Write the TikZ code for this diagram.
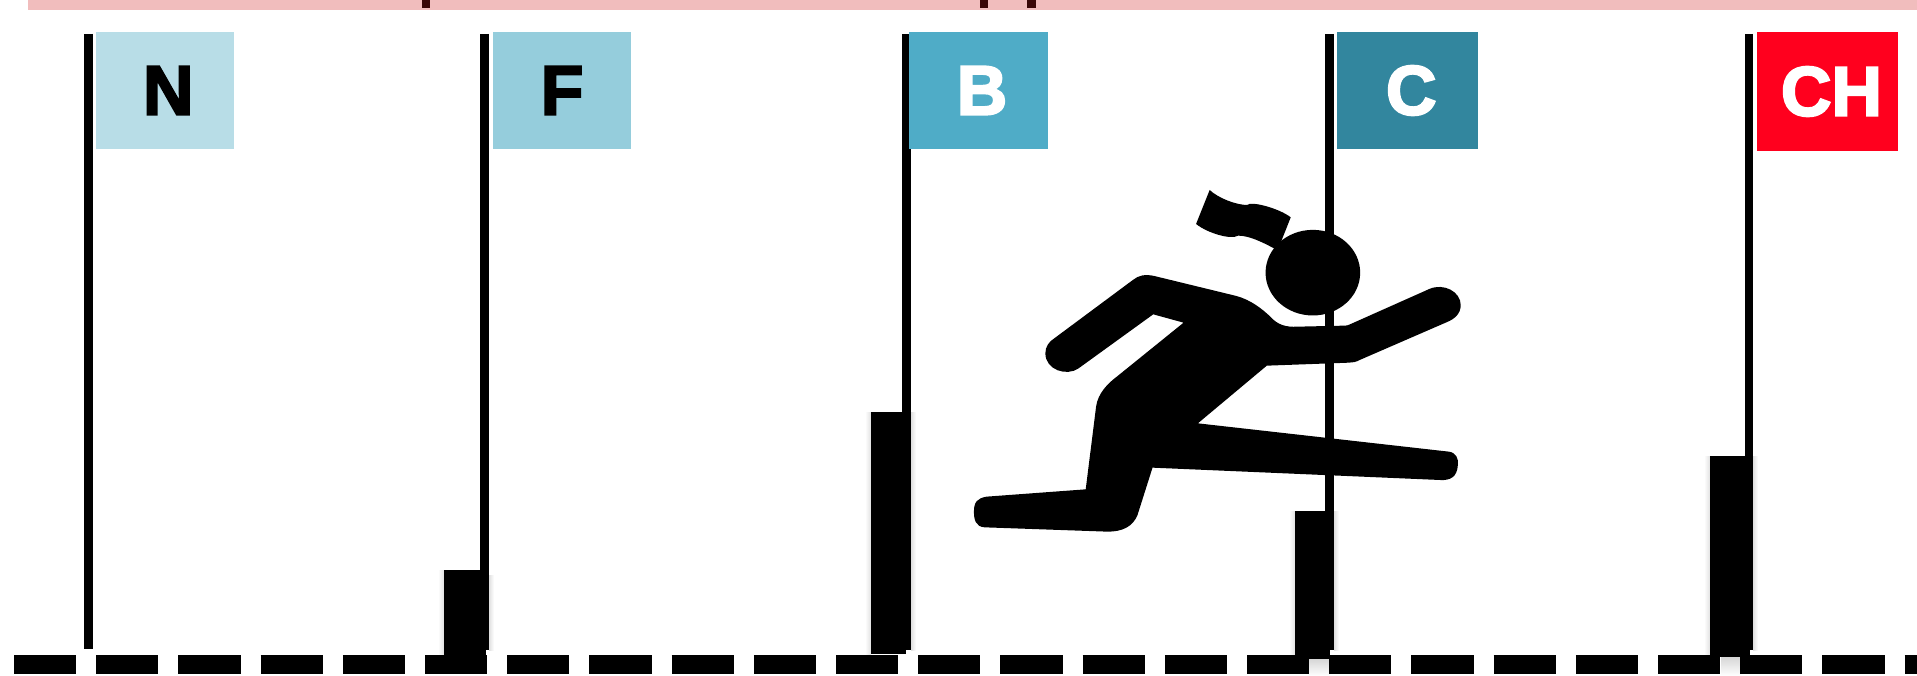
\documentclass[tikz,border=0pt]{standalone}
\usepackage{fontspec}
\setmainfont{Liberation Sans}
\newfontfamily\flagfont[FakeBold=3]{Liberation Sans Bold}
\definecolor{bandpink}{HTML}{F1BDBD}
\definecolor{tickdark}{HTML}{3A0808}
\definecolor{flagN}{HTML}{B8DDE7}
\definecolor{flagF}{HTML}{95CDDC}
\definecolor{flagB}{HTML}{4FACC7}
\definecolor{flagC}{HTML}{32869E}
\definecolor{flagCH}{HTML}{FF001E}
\tikzset{
  flagbox/.style={rectangle,draw=none,inner sep=0pt,minimum width=#1,minimum height=117pt,
    font=\fontsize{70}{70}\selectfont\flagfont},
  pole/.style={line width=8.6pt,black},
  bar/.style={fill=black,draw=none},
  glowL/.style={left color=white,right color=black!12,draw=none},
  glowR/.style={left color=black!12,right color=white,draw=none},
  tick/.style={fill=tickdark,draw=none}
}
\begin{document}
\begin{tikzpicture}[x=1pt,y=-1pt]
\useasboundingbox (0,0) rectangle (1917,676);
\fill[white] (0,0) rectangle (1917,676);
% top band
\fill[bandpink] (28,0) rectangle (1917,9.7);
\fill[tick] (422,0) rectangle (429.5,8);
\fill[tick] (980,0) rectangle (988,8);
\fill[tick] (1027,0) rectangle (1036,8);
% soft edges of the bars
\shade[glowL] (438,570) rectangle (444,655);
\shade[glowR] (489,575) rectangle (494,650);
\shade[glowL] (865,412) rectangle (871,654);
\shade[glowR] (911,412) rectangle (916,650);
\shade[glowL] (1289,511) rectangle (1295,655);
\shade[glowR] (1334,511) rectangle (1339,650);
\shade[glowL] (1704,456) rectangle (1710,655);
\shade[glowR] (1753,456) rectangle (1758,650);
% poles
\coordinate (nTop) at (88.5,34);   \coordinate (nBot) at (88.5,649);
\coordinate (fTop) at (484.5,34);  \coordinate (fBot) at (484.5,650);
\coordinate (bTop) at (906.5,34);  \coordinate (bBot) at (906.5,650);
\coordinate (cTop) at (1329.5,34); \coordinate (cBot) at (1329.5,650);
\coordinate (hTop) at (1749,34);   \coordinate (hBot) at (1749,650);
\draw[pole] (nTop) -- (nBot);
\draw[pole] (fTop) -- (fBot);
\draw[pole] (bTop) -- (bBot);
\draw[pole] (cTop) -- (cBot);
\draw[pole] (hTop) -- (hBot);
% bars
\fill[bar] (444,570) rectangle (486,656);
\fill[bar] (871,412) rectangle (906,654);
\fill[bar] (1294.5,511) rectangle (1330,659);
\fill[bar] (1710,456) rectangle (1750,657);
% flags
\node[flagbox=137.6pt,fill=flagN,text=black] (flagn) at (165.2,90.5) {\raisebox{-1pt}{\hspace{6pt}N}};
\node[flagbox=138pt,fill=flagF,text=black] (flagf) at (562,90.5) {\raisebox{-1pt}{F}};
\node[flagbox=139pt,fill=flagB,text=white] (flagb) at (978,90.5) {\raisebox{-1pt}{\hspace{8pt}B}};
\node[flagbox=140.6pt,fill=flagC,text=white] (flagc) at (1407.3,90.5) {\raisebox{-1pt}{\hspace{8pt}C}};
\node[flagbox=141pt,minimum height=119pt,fill=flagCH,text=white] (flagh) at (1827.5,91.5) {\raisebox{0pt}{\hspace{8pt}CH}};
% ground line
\coordinate (gL) at (14,664.5);
\coordinate (gR) at (1917,664.5);
\shade[top color=black!16,bottom color=white,draw=none] (1308,659) rectangle (1330,676);
\shade[top color=black!16,bottom color=white,draw=none] (1721,657) rectangle (1741,676);
\draw[line width=19pt,black,dash pattern=on 62.2pt off 20pt] (gL) -- (gR);
\fill[bar] (1294.5,650) rectangle (1330,659);
% runner
\begin{scope}[xshift=940pt,yshift=-170pt,x=0.357143pt,y=-0.333333pt]
\fill[black] (1044,308) ellipse [x radius=47.3pt,y radius=42.8pt];
\fill[black] (755,60) .. controls (780,85) and (830,105) .. (860,105)
  .. controls (870,92) and (950,115) .. (982,142) -- (955,215) -- (990,240) -- (935,235)
  .. controls (900,215) and (865,197) .. (835,197)
  .. controls (815,210) and (750,190) .. (717,162) -- cycle;
\fill[black] (320,505) -- (540,330) .. controls (555,316) and (575,312) .. (600,318)
  -- (830,378) .. controls (870,390) and (900,415) .. (925,440)
  .. controls (945,465) and (970,472) .. (1000,470)
  -- (1130,467) .. controls (1140,467) and (1145,465) .. (1150,462)
  -- (1370,357) .. controls (1410,338) and (1458,365) .. (1458,405)
  .. controls (1458,432) and (1440,447) .. (1420,456)
  -- (1175,570) .. controls (1165,576) and (1155,578) .. (1145,578)
  -- (915,587) -- (722,760) -- (1425,845)
  .. controls (1445,848) and (1452,865) .. (1450,885)
  .. controls (1448,920) and (1430,932) .. (1400,930)
  -- (595,893) -- (553,1035) .. controls (540,1070) and (510,1085) .. (470,1085)
  -- (125,1072) .. controls (100,1070) and (95,1050) .. (95,1025)
  .. controls (95,995) and (105,985) .. (130,980)
  -- (408,958) -- (437,710) .. controls (442,670) and (470,640) .. (495,620)
  -- (682,458) -- (597,433) -- (388,595)
  .. controls (355,620) and (295,600) .. (295,550)
  .. controls (295,530) and (305,515) .. (320,505) -- cycle;
\end{scope}
\end{tikzpicture}
\end{document}
